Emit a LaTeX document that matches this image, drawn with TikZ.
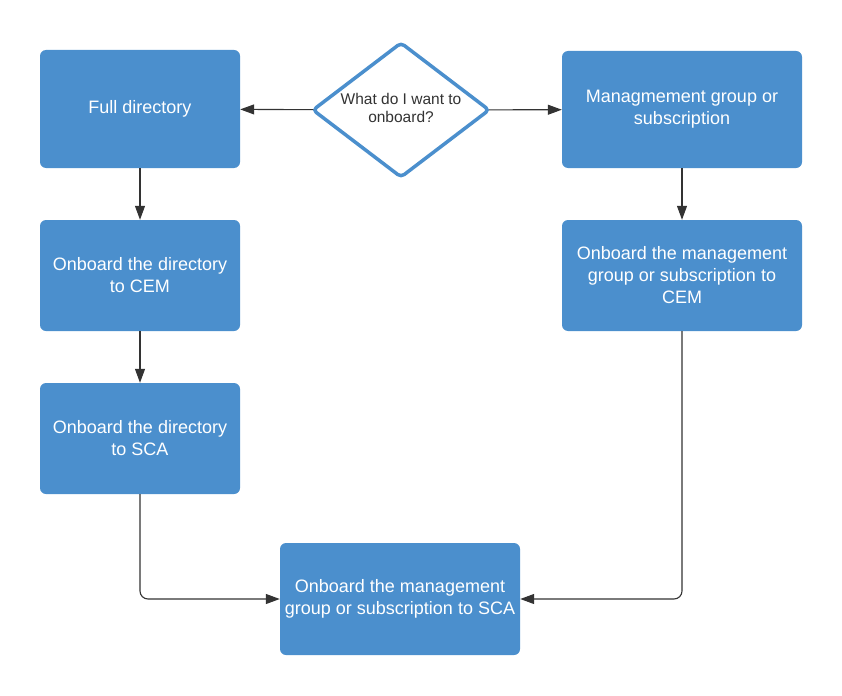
\documentclass[tikz,border=0pt]{standalone}
\usepackage{fontspec}
\setmainfont{Liberation Sans}
\usepackage{tikz}
\usetikzlibrary{positioning,shapes,arrows, arrows.meta, shapes.geometric}

\definecolor{boxblue}{RGB}{75,143,205}
\definecolor{linegray}{RGB}{51,51,51}

\begin{document}
\begin{tikzpicture}[x=1pt,y=-1pt,
	box/.style={draw=none, fill=boxblue, rounded corners=6pt, text=white, align=center, inner sep=0pt, font=\fontsize{18}{22}\selectfont},
	choice/.style={diamond, draw=boxblue, line width=3.5pt, fill=white, rounded corners=4pt, aspect=1.3, inner sep=0pt, outer sep=0pt, minimum width=176pt, minimum height=134pt, align=center, text=linegray, font=\fontsize{15.5}{18}\selectfont},
	line/.style={draw=linegray, line width=1.1pt, -{Triangle[length=14pt,width=10pt]}}]
					\useasboundingbox (0,0) rectangle (842,695);
					
					\node[choice] (Q) at (401,110) {};
					\node[text=linegray, align=center, font=\fontsize{15.5}{18}\selectfont] (Qtext) at (401,108) {What do I want to\\onboard?};
					\node[box, minimum width=200pt, minimum height=118pt] (Full) at (140,109) {Full directory};
					\node[box, minimum width=240pt, minimum height=117pt] (Mgmt) at (682,109.5) {Managmement group or\\subscription};
					\node[box, minimum width=200pt, minimum height=111pt] (DirCEM) at (140,275.5) {Onboard the directory\\to CEM};
					\node[box, minimum width=200pt, minimum height=111pt] (DirSCA) at (140,438.5) {Onboard the directory\\to SCA};
					\node[box, minimum width=240pt, minimum height=111pt] (MgCEM) at (682,275.5) {Onboard the management\\group or subscription to\\CEM};
					\node[box, minimum width=240pt, minimum height=112pt] (MgSCA) at (400,599) {Onboard the management\\group or subscription to SCA};
					
					\draw[line] (Q) -- (Full);
					\draw[line] (Q) -- (Mgmt);
					\draw[line] (Full) -- (DirCEM);
					\draw[line] (DirCEM) -- (DirSCA);
					\draw[line] (Mgmt) -- (MgCEM);
					\draw[line, rounded corners=8pt] (DirSCA.south) |- (MgSCA.west);
					\draw[line, rounded corners=8pt] (MgCEM.south) |- (MgSCA.east);
				
	\end{tikzpicture}
\end{document}
